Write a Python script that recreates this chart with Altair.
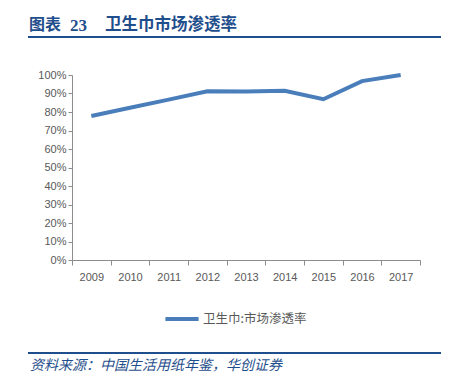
import altair as alt
import pandas as pd

years = ["2009", "2010", "2011", "2012", "2013", "2014", "2015", "2016", "2017"]
penetration = [0.778, 0.823, 0.867, 0.912, 0.911, 0.915, 0.869, 0.967, 1.0]
series_name = "卫生巾:市场渗透率"
y_ticks = [i / 10 for i in range(11)]

title_prefix = "图表"
title_number = "23"
title_text = "卫生巾市场渗透率"
source_text = "资料来源：中国生活用纸年鉴，华创证券"

df = pd.DataFrame({"year": years, "value": penetration, "series": series_name})

W, H = 348, 185
BLUE = "#1f4e8c"
GRAY = "#595959"
AXIS = "#8c8c8c"
FONT = "Liberation Sans"
CJK = "Noto Sans CJK SC"

line = alt.Chart(df).mark_line(strokeWidth=4, strokeCap="butt").encode(
    x=alt.X("year:O", bandPosition=0.5,
            scale=alt.Scale(type="band", paddingInner=0, paddingOuter=0),
            axis=alt.Axis(title=None, labelAngle=0, tickBand="extent", labelFont=FONT,
                          labelFontSize=11, labelColor=GRAY, domainColor=AXIS, tickColor=AXIS,
                          tickSize=5, labelPadding=6)),
    y=alt.Y("value:Q", scale=alt.Scale(domain=[0, 1], nice=False),
            axis=alt.Axis(title=None, values=y_ticks, format=".0%", grid=False, labelFont=FONT,
                          labelFontSize=11, labelColor=GRAY, domainColor=AXIS, tickColor=AXIS,
                          tickSize=4, labelPadding=2)),
    color=alt.Color("series:N", scale=alt.Scale(range=["#4a7ebb"]),
                    legend=alt.Legend(title=None, orient="none", legendX=91, legendY=225,
                                      symbolType="stroke", symbolStrokeWidth=4, symbolSize=1100,
                                      labelFont=CJK, labelFontSize=12.5, labelColor=GRAY,
                                      labelOffset=2)),
)

deco = pd.DataFrame({"k": [0]})
base = alt.Chart(deco)

t1 = base.mark_text(align="left", baseline="middle", font=CJK, fontSize=16,
                    fontWeight="bold", color=BLUE, text=title_prefix).encode(
    x=alt.value(-43), y=alt.value(-50))
t1b = base.mark_text(align="left", baseline="middle", font="Liberation Serif", fontSize=17,
                     fontWeight="bold", color=BLUE, text=title_number).encode(
    x=alt.value(-2), y=alt.value(-49))
t2 = base.mark_text(align="left", baseline="middle", font=CJK, fontSize=16.5,
                    fontWeight="bold", color=BLUE, text=title_text).encode(
    x=alt.value(33), y=alt.value(-50))
r1 = base.mark_rule(color=BLUE, strokeWidth=2).encode(
    x=alt.value(-44), x2=alt.value(369), y=alt.value(-38))
r2 = base.mark_rule(color=BLUE, strokeWidth=2).encode(
    x=alt.value(-44), x2=alt.value(369), y=alt.value(278))
t3 = base.mark_text(align="left", baseline="middle", font=CJK, fontSize=14,
                    fontStyle="italic", color=BLUE, text=source_text).encode(
    x=alt.value(-42), y=alt.value(291))

chart = alt.layer(line, t1, t1b, t2, r1, r2, t3).properties(
    width=W, height=H,
    autosize=alt.AutoSizeParams(type="none"),
    padding={"left": 64, "top": 67, "right": 29, "bottom": 118},
).configure_view(stroke=None)

chart.save("out.html", embed_options={"renderer": "svg", "actions": False})
